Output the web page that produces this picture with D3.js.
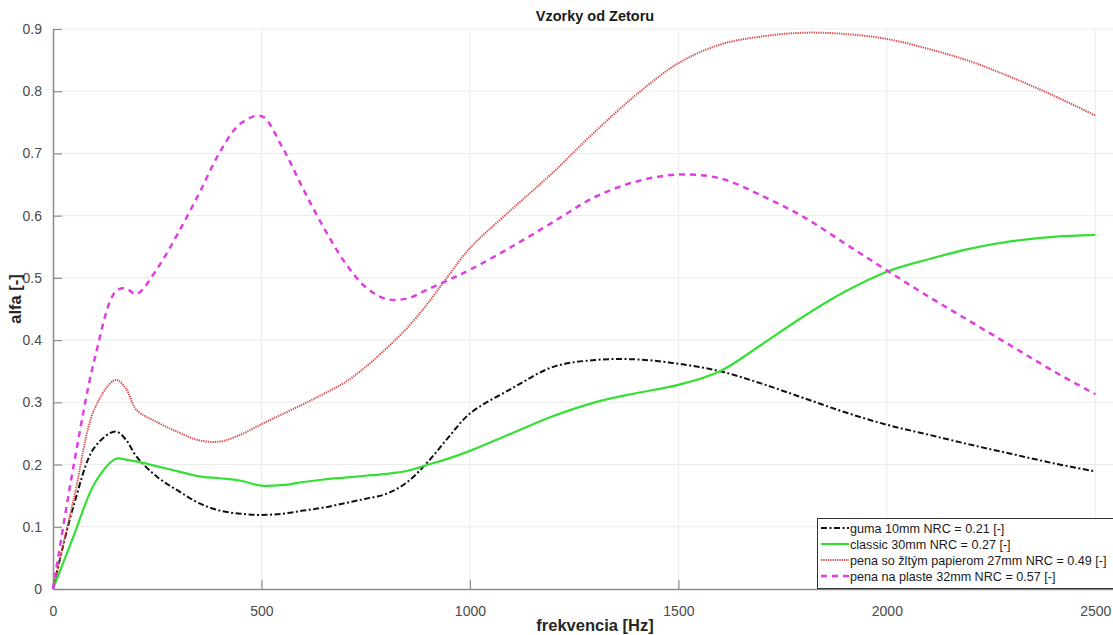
<!DOCTYPE html>
<html>
<head>
<meta charset="utf-8">
<script src="https://cdn.jsdelivr.net/npm/d3@7"></script>
<style>
  html, body { margin: 0; padding: 0; background: #fff; }
  svg { display: block; font-family: "Liberation Sans", Arial, sans-serif; }
</style>
</head>
<body>
<svg id="chart" width="1113" height="635"></svg>
<script>
const title = "Vzorky od Zetoru";
const xLabel = "frekvencia [Hz]";
const yLabel = "alfa [-]";

const freq = [0,50,100,150,175,200,250,300,350,400,450,500,550,600,650,700,750,800,850,900,950,1000,1100,1200,1300,1400,1500,1600,1700,1800,1900,2000,2100,2200,2300,2400,2500];

const guma    = [0,0.135,0.228,0.253,0.240,0.213,0.180,0.158,0.138,0.126,0.121,0.119,0.121,0.126,0.131,0.138,0.145,0.153,0.172,0.205,0.245,0.282,0.322,0.357,0.368,0.369,0.362,0.350,0.330,0.307,0.284,0.264,0.248,0.232,0.217,0.202,0.189];
const classic = [0,0.086,0.170,0.209,0.208,0.205,0.197,0.189,0.181,0.178,0.174,0.166,0.167,0.172,0.176,0.179,0.182,0.185,0.190,0.200,0.210,0.222,0.250,0.278,0.300,0.315,0.328,0.350,0.393,0.438,0.478,0.510,0.530,0.547,0.559,0.566,0.569];
const penaPapier = [0,0.145,0.290,0.336,0.322,0.288,0.268,0.252,0.239,0.237,0.248,0.265,0.281,0.297,0.314,0.332,0.357,0.387,0.420,0.460,0.505,0.548,0.610,0.670,0.735,0.795,0.845,0.875,0.888,0.894,0.892,0.884,0.868,0.848,0.822,0.793,0.761];
const penaPlast  = [0,0.200,0.370,0.478,0.483,0.474,0.515,0.572,0.635,0.702,0.748,0.760,0.710,0.643,0.580,0.525,0.485,0.466,0.467,0.482,0.497,0.513,0.550,0.590,0.630,0.655,0.666,0.660,0.632,0.598,0.555,0.512,0.470,0.430,0.390,0.350,0.313];

const seriesNames = [
  "guma 10mm NRC = 0.21 [-]",
  "classic 30mm NRC = 0.27 [-]",
  "pena so žltým papierom 27mm NRC = 0.49 [-]",
  "pena na plaste 32mm NRC = 0.57 [-]"
];
const xTicks = [0,500,1000,1500,2000,2500];
const yTicks = [0,0.1,0.2,0.3,0.4,0.5,0.6,0.7,0.8,0.9];

const series = [
  {name: seriesNames[0], values: guma,       color: "#111111", width: 2,   dash: "6,2.5,2,2.5"},
  {name: seriesNames[1], values: classic,    color: "#33e033", width: 2.2, dash: null},
  {name: seriesNames[2], values: penaPapier, color: "#d64c4c", width: 2,   dash: "1.3,1"},
  {name: seriesNames[3], values: penaPlast,  color: "#e03ee0", width: 2.5, dash: "6,5"}
];

const svg = d3.select("#chart");
const x = d3.scaleLinear().domain([0, 2600]).range([53, 1137]);
const y = d3.scaleLinear().domain([0, 0.9]).range([589, 29]);

// grid
const grid = svg.append("g");
grid.selectAll("line.gx").data(xTicks.filter(d => d > 0)).enter().append("line")
  .attr("x1", d => x(d)).attr("x2", d => x(d)).attr("y1", y(0)).attr("y2", y(0.9))
  .attr("stroke", "#ebebeb").attr("stroke-width", 1);
grid.selectAll("line.gy").data(yTicks.filter(d => d > 0)).enter().append("line")
  .attr("x1", x(0)).attr("x2", x(2600)).attr("y1", d => y(d)).attr("y2", d => y(d))
  .attr("stroke", "#ebebeb").attr("stroke-width", 1);

// axes
const xAxis = svg.append("g").attr("transform", `translate(0,${y(0)})`)
  .call(d3.axisBottom(x).tickValues(xTicks).tickFormat(d3.format("d")).tickSizeInner(-9).tickSizeOuter(0).tickPadding(17));
const yAxis = svg.append("g").attr("transform", `translate(${x(0)},0)`)
  .call(d3.axisLeft(y).tickValues(yTicks).tickFormat(d => d === 0 ? "0" : d3.format(".1f")(d)).tickSizeInner(-9).tickSizeOuter(0).tickPadding(11));
[xAxis, yAxis].forEach(g => {
  g.select(".domain").attr("stroke", "#8c8c8c").attr("stroke-width", 1.5);
  g.selectAll(".tick line").attr("stroke", "#8c8c8c").attr("stroke-width", 1.2);
  g.selectAll(".tick text").attr("fill", "#4a4a4a").style("font-size", "14px").style("font-family", "'Liberation Sans', Arial, sans-serif");
});

// lines
const line = d3.line().x((d, i) => x(freq[i])).y(d => y(d)).curve(d3.curveCatmullRom.alpha(0.5));
svg.append("g").selectAll("path").data(series).enter().append("path")
  .attr("d", d => line(d.values))
  .attr("fill", "none")
  .attr("stroke", d => d.color)
  .attr("stroke-width", d => d.width)
  .attr("stroke-dasharray", d => d.dash);

// titles
svg.append("text").attr("x", 595).attr("y", 21).attr("text-anchor", "middle")
  .attr("font-weight", "bold").attr("font-size", "14.5px").attr("fill", "#1a1a1a").text(title);
svg.append("text").attr("x", 595).attr("y", 631).attr("text-anchor", "middle")
  .attr("font-weight", "bold").attr("font-size", "16.5px").attr("fill", "#262626").text(xLabel);
svg.append("text").attr("transform", "translate(21,299) rotate(-90)").attr("text-anchor", "middle")
  .attr("font-weight", "bold").attr("font-size", "16.5px").attr("fill", "#262626").text(yLabel);

// legend
const lg = svg.append("g");
lg.append("rect").attr("x", 817.5).attr("y", 518.5).attr("width", 310).attr("height", 70)
  .attr("fill", "#fff").attr("stroke", "#333").attr("stroke-width", 1);
const rowY = [528, 544, 560, 576];
series.forEach((s, i) => {
  lg.append("line").attr("x1", 821).attr("x2", 849).attr("y1", rowY[i]).attr("y2", rowY[i])
    .attr("stroke", s.color).attr("stroke-width", s.width).attr("stroke-dasharray", s.dash);
  lg.append("text").attr("x", 850).attr("y", rowY[i] + 4.5).attr("font-size", "12.6px")
    .attr("fill", "#1a1a1a").text(s.name);
});
</script>
</body>
</html>
